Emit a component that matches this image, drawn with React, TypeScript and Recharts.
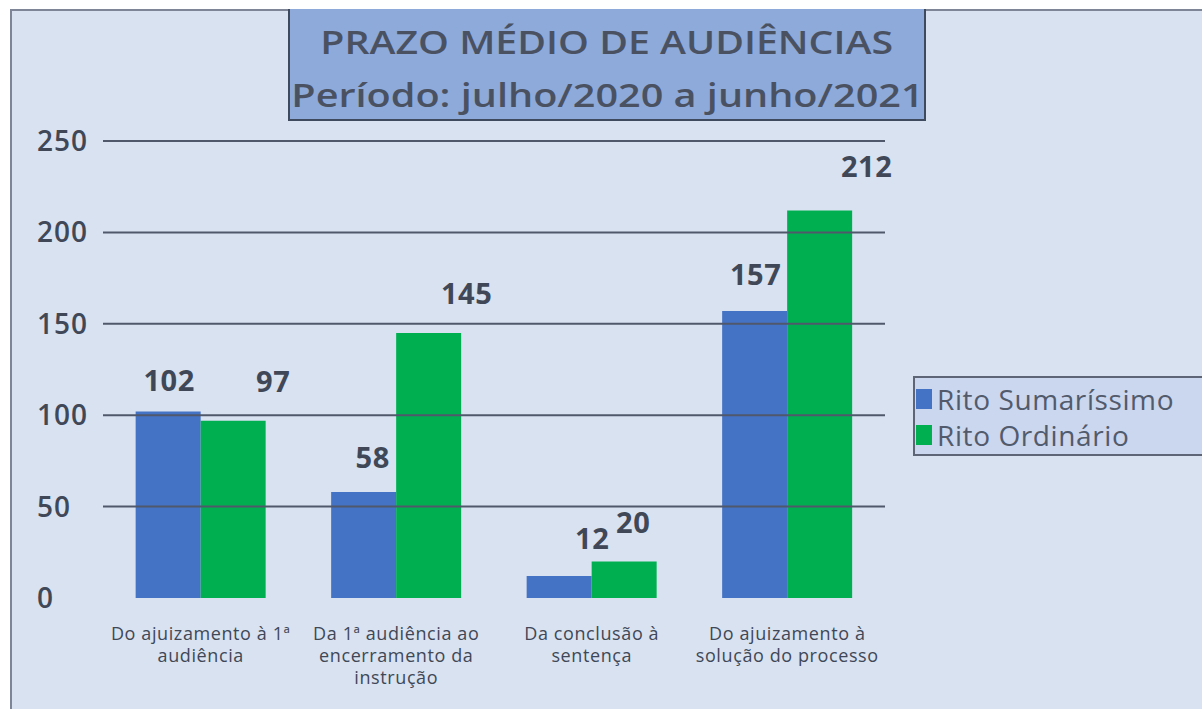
import { BarChart, Bar, XAxis, YAxis, ReferenceLine, LabelList } from 'recharts';

const CATEGORIES = [
  'Do ajuizamento à 1ª\naudiência',
  'Da 1ª audiência ao\nencerramento da\ninstrução',
  'Da conclusão à\nsentença',
  'Do ajuizamento à\nsolução do processo',
];
const SUMARISSIMO = [102, 58, 12, 157];
const ORDINARIO = [97, 145, 20, 212];
const Y_TICKS = [0, 50, 100, 150, 200, 250];

const SERIES = [
  { key: 'sumarissimo', name: 'Rito Sumaríssimo', color: '#4472c4' },
  { key: 'ordinario', name: 'Rito Ordinário', color: '#00b050' },
];

// manual label nudges, like the moved labels in the original sheet
const LABEL_OFFSETS: Record<string, [number, number][]> = {
  sumarissimo: [[1, -32], [9, -35], [33, -39], [1, -38]],
  ordinario: [[40, -40], [38, -40], [9, -40], [47, -45]],
};

const data = CATEGORIES.map((name, i) => ({
  name,
  sumarissimo: SUMARISSIMO[i],
  ordinario: ORDINARIO[i],
}));

const FONT = '"Open Sans", "Noto Sans", sans-serif';
const TEXT = '#404857';

function YTick({ y, payload }: any) {
  return (
    <text x={37} y={y} dy={10} textAnchor="start" fill={TEXT} fontSize={28} fontWeight={600} letterSpacing={1} fontFamily={FONT}>
      {payload.value}
    </text>
  );
}

function XTick({ x, y, payload }: any) {
  const lines = String(payload.value).split('\n');
  return (
    <text x={x} y={y} textAnchor="middle" fill={TEXT} fontSize={18} letterSpacing={0.6} fontFamily={FONT}>
      {lines.map((l, i) => (
        <tspan key={i} x={x} dy={i === 0 ? 34 : 22}>
          {l}
        </tspan>
      ))}
    </text>
  );
}

function makeLabel(seriesKey: string) {
  return (props: any) => {
    const { x, y, width, value, index } = props;
    const [dx, dy] = LABEL_OFFSETS[seriesKey][index] ?? [0, -30];
    return (
      <text
        x={x + width / 2 + dx}
        y={y + dy}
        textAnchor="middle"
        dominantBaseline="central"
        fill={TEXT}
        fontSize={29}
        fontWeight={700}
        letterSpacing={0.5}
        fontFamily={FONT}
      >
        {value}
      </text>
    );
  };
}

export default function App() {
  return (
    <div style={{ position: 'absolute', left: 0, top: 0, width: 1202, height: 709, background: '#fff', overflow: 'hidden', fontFamily: FONT }}>
      <div
        style={{
          position: 'absolute', left: 10, top: 9, width: 1200, height: 710,
          background: '#d9e2f0', borderLeft: '2px solid #7d8596', borderTop: '2px solid #7d8596',
        }}
      />
      <div style={{ position: 'absolute', left: 0, top: 0 }}>
        <BarChart
          width={1202}
          height={709}
          data={data}
          margin={{ top: 141, right: 317, bottom: 0, left: 37 }}
          barGap={0}
          barCategoryGap="16.7%"
        >
          <XAxis dataKey="name" axisLine={false} tickLine={false} interval={0} tick={<XTick />} height={111} />
          <YAxis domain={[0, 250]} ticks={Y_TICKS} axisLine={false} tickLine={false} width={66} tick={<YTick />} />
          {Y_TICKS.filter((v) => v > 0).map((v) => (
            <ReferenceLine key={v} y={v} stroke="#4f596b" strokeWidth={2} />
          ))}
          {SERIES.map((s) => (
            <Bar key={s.key} dataKey={s.key} name={s.name} fill={s.color} isAnimationActive={false}>
              <LabelList dataKey={s.key} content={makeLabel(s.key)} />
            </Bar>
          ))}
        </BarChart>
      </div>
      <div
        style={{
          position: 'absolute', left: 288, top: 9, width: 634, height: 104,
          background: '#8eaadb', border: '2px solid #3f4a5e', borderTop: 'none',
          color: '#4a5262', textAlign: 'center', fontSize: 33, lineHeight: '53px', paddingTop: 6,
          boxSizing: 'content-box',
        }}
      >
        <div><span style={{ display: 'inline-block', fontWeight: 600, transform: 'scaleX(1.19)' }}>PRAZO MÉDIO DE AUDIÊNCIAS</span></div>
        <div><span style={{ display: 'inline-block', fontWeight: 600, transform: 'scaleX(1.2)' }}>Período: julho/2020 a junho/2021</span></div>
      </div>
      <div
        style={{
          position: 'absolute', left: 913, top: 376, width: 300, height: 80,
          background: '#cbd6ef', border: '2px solid #5d6577', boxSizing: 'border-box', paddingTop: 3,
        }}
      >
        {SERIES.map((s) => (
          <div key={s.key} style={{ display: 'flex', alignItems: 'center', height: 36 }}>
            <div style={{ width: 16, height: 20, background: s.color, marginLeft: 1, marginRight: 5 }} />
            <span style={{ fontSize: 28, letterSpacing: 0.6, color: '#525b6b' }}>{s.name}</span>
          </div>
        ))}
      </div>
    </div>
  );
}
